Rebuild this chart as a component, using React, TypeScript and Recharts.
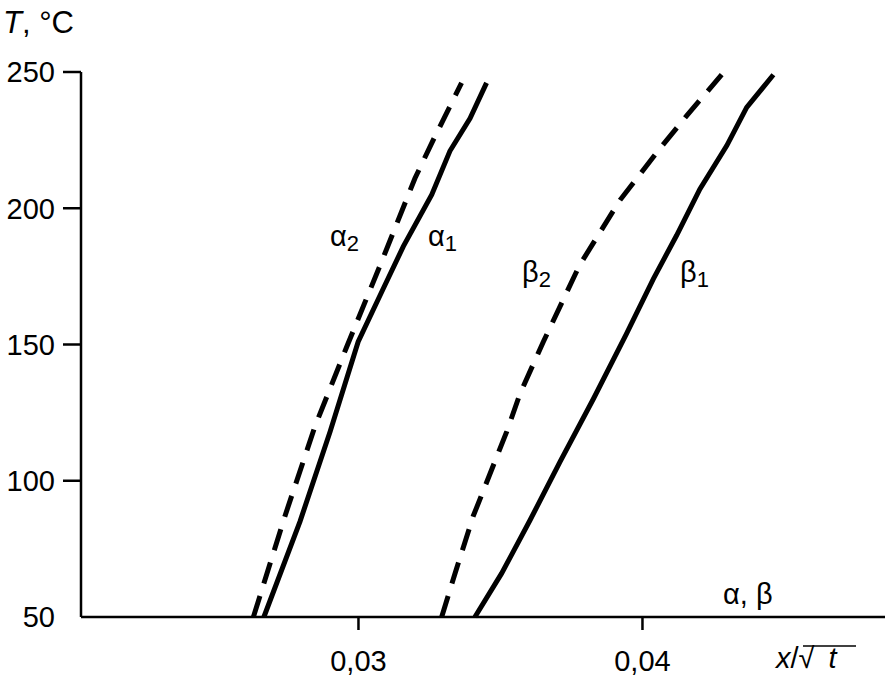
import React from 'react';
import { LineChart, Line, XAxis, YAxis, ReferenceDot } from 'recharts';

// x / sqrt(t) values vs temperature T (°C) for each curve
const alpha1X = [0.02667, 0.02794, 0.029, 0.02999, 0.03085, 0.03158, 0.03258, 0.03322, 0.03393, 0.03451];
const alpha1T = [50, 85, 118, 151, 170, 186, 205, 221, 233, 246];

const alpha2X = [0.0263, 0.02741, 0.02847, 0.02958, 0.03076, 0.03199, 0.03263, 0.03363];
const alpha2T = [50, 87, 120, 149, 179, 211, 225, 246];

const beta1X = [0.0341, 0.03504, 0.03604, 0.0371, 0.03827, 0.03944, 0.04038, 0.0412, 0.04202, 0.04297, 0.04367, 0.04461];
const beta1T = [50, 66, 85.5, 107, 130, 154, 174, 190, 207, 223, 237, 249];

const beta2X = [0.03293, 0.0334, 0.03404, 0.03522, 0.03569, 0.03651, 0.03778, 0.03921, 0.04062, 0.04156, 0.04279];
const beta2T = [50, 66, 87, 118, 132, 151, 179, 203, 222, 234, 249];

const xTicks = [0.03, 0.04];
const yTicks = [50, 100, 150, 200, 250];

// curve captions: symbol, subscript, anchor (x, T)
const captionText = ['α', 'α', 'β', 'β'];
const captionSub = ['2', '1', '2', '1'];
const captionX = [0.029, 0.03245, 0.03576, 0.04132];
const captionT = [186, 186, 173, 173];

const FONT = '"Liberation Sans", Arial, sans-serif';
const FS = 29;

const toRows = (xs: number[], ts: number[]) => xs.map((x, i) => ({ x, T: ts[i] }));

const alpha1 = toRows(alpha1X, alpha1T);
const alpha2 = toRows(alpha2X, alpha2T);
const beta1 = toRows(beta1X, beta1T);
const beta2 = toRows(beta2X, beta2T);

const YTick = (props: any) => {
  const { y, payload } = props;
  const v = payload.value;
  return (
    <g>
      {v !== 50 && <line x1={63} x2={81} y1={y} y2={y} stroke="#000" strokeWidth={2.5} />}
      <text x={55} y={y} dy="0.36em" textAnchor="end" fontSize={FS} fontFamily={FONT} fill="#000">
        {v}
      </text>
    </g>
  );
};

export default function App() {
  return (
    <div style={{ position: 'absolute', left: 0, top: 0, width: 888, height: 688, background: '#fff' }}>
      <LineChart width={888} height={688} margin={{ top: 72, right: 3, bottom: 0, left: 0 }}>
        <XAxis
          type="number"
          dataKey="x"
          domain={[0.02023, 0.04854]}
          ticks={xTicks}
          allowDataOverflow
          height={71}
          tickSize={13}
          tickMargin={20}
          axisLine={{ stroke: '#000', strokeWidth: 2.5 }}
          tickLine={{ stroke: '#000', strokeWidth: 2.5 }}
          tick={{ fill: '#000', fontSize: FS, fontFamily: FONT }}
          tickFormatter={(v: number) => v.toFixed(2).replace('.', ',')}
        />
        <YAxis
          type="number"
          dataKey="T"
          domain={[50, 250]}
          ticks={yTicks}
          width={81}
          tickLine={false}
          axisLine={{ stroke: '#000', strokeWidth: 2.5 }}
          tick={<YTick />}
        />
        <Line data={alpha2} dataKey="T" type="linear" stroke="#000" strokeWidth={5} strokeDasharray="22 13" dot={false} isAnimationActive={false} />
        <Line data={alpha1} dataKey="T" type="linear" stroke="#000" strokeWidth={5} dot={false} isAnimationActive={false} />
        <Line data={beta2} dataKey="T" type="linear" stroke="#000" strokeWidth={5} strokeDasharray="22 13" dot={false} isAnimationActive={false} />
        <Line data={beta1} dataKey="T" type="linear" stroke="#000" strokeWidth={5} dot={false} isAnimationActive={false} />
        {captionX.map((cx, i) => (
          <ReferenceDot
            key={i}
            x={cx}
            y={captionT[i]}
            r={0}
            shape={(p: any) => (
              <text x={p.cx} y={p.cy} fontSize={FS} fontFamily={FONT} fill="#000">
                <tspan>{captionText[i]}</tspan>
                <tspan fontSize={22} dy={5}>{captionSub[i]}</tspan>
              </text>
            )}
          />
        ))}
      </LineChart>
      <svg width={888} height={688} style={{ position: 'absolute', left: 0, top: 0, pointerEvents: 'none' }}>
        <text x={3} y={33} fontSize={31} fontFamily={FONT} fill="#000">
          <tspan fontStyle="italic">T</tspan>
          <tspan>, °C</tspan>
        </text>
        <text x={723} y={604} fontSize={FS} fontFamily={FONT} fill="#000">α, β</text>
        <text x={776} y={668} fontSize={FS} fontFamily={FONT} fill="#000">
          <tspan fontStyle="italic">x</tspan>
          <tspan>/√</tspan>
          <tspan fontStyle="italic" dx={14}>t</tspan>
        </text>
        <line x1={803} x2={856} y1={646} y2={646} stroke="#000" strokeWidth={1.5} />
      </svg>
    </div>
  );
}
